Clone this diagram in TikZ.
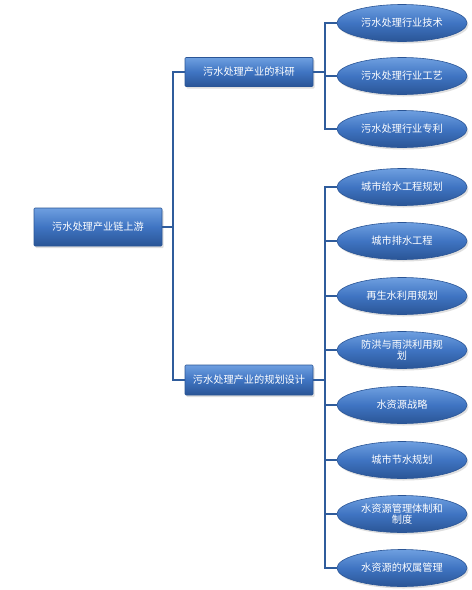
\documentclass[tikz,border=0pt]{standalone}
\usepackage{fontspec}
\setmainfont{Noto Sans CJK SC}
\usetikzlibrary{shapes.geometric,shadows}
\definecolor{lineblue}{HTML}{2F5C9C}
\definecolor{topblue}{HTML}{6E9FE0}
\definecolor{midblue}{HTML}{3F74C2}
\definecolor{botblue}{HTML}{2A5596}
\tikzset{
  boxnode/.style={rectangle, rounded corners=1pt, draw=botblue, line width=0.6pt,
    top color=topblue, bottom color=botblue, middle color=midblue,
    text=white, font=\fontsize{10.2}{12}\selectfont, inner sep=0pt,
    drop shadow={opacity=0.25, shadow xshift=1.5pt, shadow yshift=-2pt}},
  ellnode/.style={ellipse, draw=botblue, line width=0.6pt,
    top color=topblue, bottom color=botblue, middle color=midblue,
    text=white, font=\fontsize{10.2}{11.5}\selectfont, inner sep=0pt, align=center,
    minimum width=130pt, minimum height=37pt,
    drop shadow={opacity=0.25, shadow xshift=1.5pt, shadow yshift=-2pt}},
  conn/.style={draw=lineblue, line width=1.6pt}
}
\begin{document}
\begin{tikzpicture}[x=1pt,y=-1pt]
\useasboundingbox[fill=white] (0,0) rectangle (472,590);
% nodes
\node[boxnode, minimum width=128pt, minimum height=38pt] (root) at (98,227) {污水处理产业链上游};
\node[boxnode, minimum width=128pt, minimum height=29pt] (k1) at (249,72) {污水处理产业的科研};
\node[boxnode, minimum width=128pt, minimum height=30pt] (k2) at (249,380) {污水处理产业的规划设计};

\node[ellnode] (e1) at (402,23) {污水处理行业技术};
\node[ellnode] (e2) at (402,76) {污水处理行业工艺};
\node[ellnode] (e3) at (402,129) {污水处理行业专利};

\node[ellnode] (f1) at (402,187) {城市给水工程规划};
\node[ellnode] (f2) at (402,241) {城市排水工程};
\node[ellnode] (f3) at (402,296) {再生水利用规划};
\node[ellnode] (f4) at (402,350) {防洪与雨洪利用规\\划};
\node[ellnode] (f5) at (402,405) {水资源战略};
\node[ellnode] (f6) at (402,460) {城市节水规划};
\node[ellnode] (f7) at (402,514) {水资源管理体制和\\制度};
\node[ellnode] (f8) at (402,568) {水资源的权属管理};

% branch points
\coordinate (b0) at (173,227);
\coordinate (b1) at (325,72);
\coordinate (b2) at (325,380);

\begin{scope}[on background layer/.style={}]
\draw[conn] (root.east) -- (b0);
\draw[conn] (b0) |- (k1.west);
\draw[conn] (b0) |- (k2.west);
\draw[conn] (k1.east) -- (b1);
\draw[conn] (b1) |- (e1.west);
\draw[conn] (b1) |- (e2.west);
\draw[conn] (b1) |- (e3.west);
\draw[conn] (k2.east) -- (b2);
\foreach \n in {f1,f2,f3,f4,f5,f6,f7,f8}{
  \draw[conn] (b2) |- (\n.west);
}
\end{scope}
\end{tikzpicture}
\end{document}
